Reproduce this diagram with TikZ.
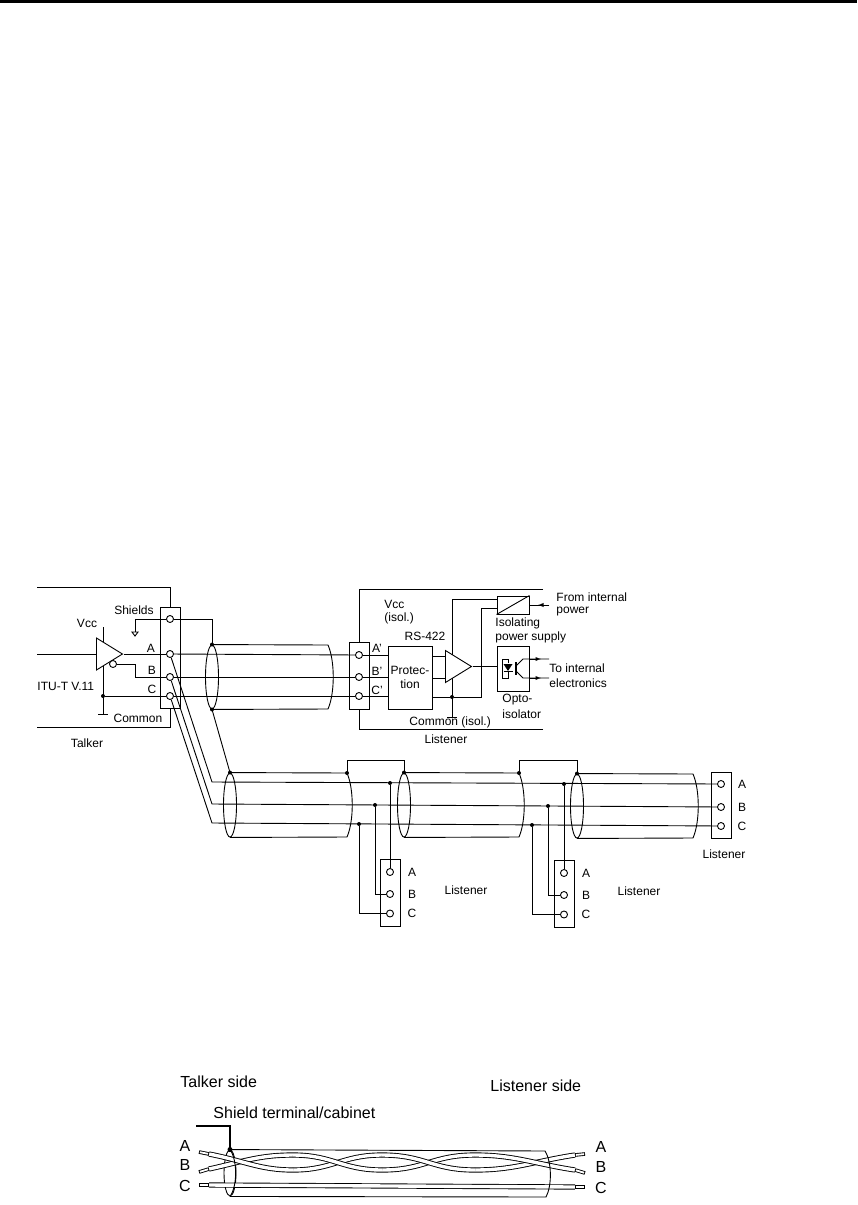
\documentclass[tikz,border=0pt]{standalone}
\usepackage{fontspec}
\setmainfont{Liberation Sans}
\usetikzlibrary{shapes.geometric}
\tikzset{
	term/.style={circle,draw,fill=white,inner sep=0pt,minimum size=7pt},
	termblock/.style={draw,inner sep=0pt,minimum width=20pt},
	dot/.style={circle,fill=black,inner sep=0pt,minimum size=4pt},
	shieldring/.style={ellipse,draw,inner sep=0pt,minimum width=13pt,minimum height=64pt},
	amp/.style={isosceles triangle,isosceles triangle stretches,draw,inner sep=0pt,
		minimum width=32pt,minimum height=26pt,anchor=lower side},
	block/.style={draw,inner sep=0pt},
	lbl/.style={inner sep=0pt,font=\fontsize{12}{14}\selectfont},
	biglbl/.style={inner sep=0pt,font=\fontsize{16}{18}\selectfont},
	wire/.style={line width=.9pt,double,double distance=3.4pt},
	stubout/.style={line width=3.6pt},
	stubcore/.style={white,line width=1.8pt,shorten <=.9pt,shorten >=.9pt}
}

\begin{document}
\begin{tikzpicture}[>=latex,x=1pt,y=-1pt,line width=.9pt]
\useasboundingbox (0,0) rectangle (857,1205);
\fill (0,0) rectangle (857,3);

% talker
\node[termblock,minimum height=101pt] (tblock) at (170,657.5) {};
\node[term] (tS) at (170,619) {};
\node[term] (tA) at (170,654) {};
\node[term] (tB) at (170,677) {};
\node[term] (tC) at (170,696) {};
\node[amp] (drv) at (96,654) {};
\node[term] (bub) at (113,664) {};
\node[dot] (tcom) at (103,696) {};
\draw (37,587) -- (170,587) -- (tblock.north);
\draw (37,727) -- (170,727) -- (tblock.south);
\draw (37,654) -- (drv.lower side);
\draw (drv.apex) -- (tA);
\draw (bub) -| (135,677) -- (tB);
\draw (tcom) -- (tC);
\draw (103,627) -- (103,642);
\draw (103,666) -- (103,714);
\draw (98,714) -- (108,714);
\draw (tS) -| (135,632);
\draw (132,632) -- (138,632) -- (135,636) -- cycle;
\node[lbl] at (134,610) {Shields};
\node[lbl] at (87,623) {Vcc};
\node[lbl] at (151,648) {A};
\node[lbl] at (152,670) {B};
\node[lbl] at (152,689) {C};
\node[lbl,anchor=west] at (37,686) {ITU-T V.11};
\node[lbl] at (138,718) {Common};
\node[lbl] at (87,743) {Talker};

% cables
\foreach \n/\cx/\cy/\rx in {cabA/212/677/328,cabB/230/805/347,cabC/404/805/519,cabD/577/806/693}{
	\node[shieldring] (\n) at (\cx,\cy) {};
	\coordinate (\n t) at (\rx,\cy-32);
	\draw (\n.north) -- (\n t) .. controls (\rx+7,\cy-16) and (\rx+7,\cy+16) .. (\rx,\cy+32) -- (\n.south);
}
\draw (tS) -| (cabA.north);
\draw (cabA.south) -- (cabB.north);
\draw (cabBt) -- ++(0,-13) -| (cabC.north);
\draw (cabCt) -- ++(0,-13) -| (cabD.north);
\foreach \p in {cabA.north,cabA.south,cabB.north,cabBt,cabC.north,cabCt,cabD.north}{
	\node[dot] at (\p) {};
}

% listener at the first cable
\node[termblock,minimum height=67pt] (lblock) at (359,675.5) {};
\node[term] (lA) at (359,655) {};
\node[term] (lB) at (359,677) {};
\node[term] (lC) at (359,696) {};
\node[block,minimum width=44pt,minimum height=63pt,align=center,lbl] (prot) at (410,677.5)
	{Protec-\\[-.5pt]tion};
\node[amp] (rcv) at (445,666.5) {};
\node[block,minimum width=32pt,minimum height=18pt] (psu) at (513,605) {};
\node[block,minimum width=32pt,minimum height=45pt] (opto) at (513,668.5) {};
\node[dot] (lcom) at (452,697) {};
\draw (tA) -- (lA);
\draw (tB) -- (lB);
\draw (tC) -- (lC);
\draw (543,589) -- (359,589) -- (lblock.north);
\draw (543,729) -- (359,729) -- (lblock.south);
\draw (lA) -- (lA -| prot.west);
\draw (lB) -- (lB -| prot.west);
\draw (lC) -- (lC -| prot.west);
\draw (prot.east |- 0,656) -- (445,656);
\draw (prot.east |- 0,678) -- (445,678);
\draw (rcv.apex) -- (rcv.apex -| opto.west);
\draw (prot.east |- lcom) -- (lcom) -- (481,697) -- (481,608) -- (psu.west |- 0,608);
\draw (452,655) -- (452,599) -- (psu.west |- 0,599);
\draw (452,678) -- (452,717);
\draw (447,717) -- (457,717);
\draw (psu.south west) -- (psu.north east);
\draw (549,605) -- (psu.east);
\draw[->] (549,605) -- (538,605);
% opto-isolator inside
\draw (508,663) -- (508,659) -- (502,659) -- (502,678) -- (508,678) -- (508,671);
\fill (503.5,664) -- (512.5,664) -- (508,671) -- cycle;
\draw (503.5,671) -- (512.5,671);
\draw[line width=1.4pt] (516,662) -- (516,675);
\draw (516,666) -- (523,659) -- (549,659);
\draw (516,671) -- (523,678) -- (549,678);
\draw[->] (530,659) -- (541,659);
\draw[->] (530,678) -- (541,678);
\node[lbl] at (377,648) {A'};
\node[lbl] at (377,671) {B'};
\node[lbl] at (377,690) {C'};
\node[lbl,anchor=west] at (384,604) {Vcc};
\node[lbl,anchor=west] at (384,618) {(isol.)};
\node[lbl] at (425,636) {RS-422};
\node[lbl,anchor=west] at (556,597) {From internal};
\node[lbl,anchor=west] at (556,612) {power};
\node[lbl,anchor=west] at (495,623) {Isolating};
\node[lbl,anchor=west] at (495,637) {power supply};
\node[lbl,anchor=west] at (549,668) {To internal};
\node[lbl,anchor=west] at (549,683) {electronics};
\node[lbl,anchor=west] at (502,700) {Opto-};
\node[lbl,anchor=west] at (502,714) {isolator};
\node[lbl,anchor=west] at (409,722) {Common (isol.)};
\node[lbl] at (446,739) {Listener};

% end listener
\node[termblock,minimum height=66pt] (eblock) at (721.5,805) {};
\node[term] (eA) at (721,784) {};
\node[term] (eB) at (721,807) {};
\node[term] (eC) at (721,826) {};
\coordinate (bendA) at (212,782);
\coordinate (bendB) at (212,804);
\coordinate (bendC) at (212,823);
\draw (tA) -- (bendA) -- (eA);
\draw (tB) -- (bendB) -- (eB);
\draw (tC) -- (bendC) -- (eC);
\node[lbl] at (742,784) {A};
\node[lbl] at (742,807) {B};
\node[lbl] at (742,826) {C};
\node[lbl] at (724,854) {Listener};

% tapped listeners
\foreach \t/\bx/\by/\ax/\bax/\cax/\ya in {p/390/872/390/375/359/783,q/564/873/564/548/532/784}{
	\node[termblock,minimum height=67pt] (\t block) at (\bx,\by+20.5) {};
	\node[term] (\t A) at (\bx,\by) {};
	\node[term] (\t B) at (\bx,\by+22) {};
	\node[term] (\t C) at (\bx,\by+41.5) {};
	\node[dot] (\t da) at (\ax,\ya) {};
	\node[dot] (\t db) at (\bax,\ya+22) {};
	\node[dot] (\t dc) at (\cax,\ya+41) {};
	\draw (\t da) -- (\t A);
	\draw (\t db) |- (\t B);
	\draw (\t dc) |- (\t C);
	\node[lbl] at (\bx+22,\by) {A};
	\node[lbl] at (\bx+22,\by+22) {B};
	\node[lbl] at (\bx+22,\by+41.5) {C};
}
\node[lbl] at (466,890) {Listener};
\node[lbl] at (639,891) {Listener};

% twisted pair cable
\node[shieldring,minimum height=46pt,minimum width=12pt] (bring) at (230,1173) {};
\node[biglbl,anchor=west] at (180,1082) {Talker side};
\node[biglbl,anchor=west] at (490,1086) {Listener side};
\node[biglbl,anchor=west] at (213,1113) {Shield terminal/cabinet};
\node[biglbl] at (185,1146) {A};
\node[biglbl] at (185,1165) {B};
\node[biglbl] at (185,1186) {C};
\node[biglbl] at (601,1147) {A};
\node[biglbl] at (601,1167) {B};
\node[biglbl] at (601,1188) {C};
\draw[wire] (209,1185) -- (575,1187);
% rising parts first, the falling parts lie over them
\foreach \a/\b/\c/\d in {{209,1169}/{245,1161}/{260,1155}/{293,1155},
	{293,1170}/{333,1170}/{342,1155}/{382,1155},
	{382,1170}/{425,1170}/{432,1155}/{475,1155},
	{475,1170}/{515,1170}/{535,1161}/{575,1155},
	{209,1154}/{245,1161}/{260,1170}/{293,1170},
	{293,1155}/{333,1155}/{342,1170}/{382,1170},
	{382,1155}/{425,1155}/{432,1170}/{475,1170},
	{475,1155}/{515,1155}/{535,1164}/{575,1170}}{
	\draw[wire] (\a) .. controls (\b) and (\c) .. (\d);
}
\foreach \a/\b in {{199,1152}/{209,1154},{199,1172}/{209,1169},{199,1185}/{209,1185},
	{575,1155}/{585,1154},{575,1170}/{585,1173},{575,1187}/{585,1187}}{
	\draw[stubout] (\a) -- (\b);
	\draw[stubcore] (\a) -- (\b);
}
\draw (bring.north) .. controls (237.5,1160) and (237.5,1186) .. (bring.south);
\draw (bring.north) -- (545,1151) .. controls (552,1162) and (552,1186) .. (546,1197) -- (bring.south);
\draw[line width=1.6pt] (196,1126) -| (bring.north);
\node[dot,minimum size=5pt] at (bring.north) {};
\end{tikzpicture}
\end{document}
